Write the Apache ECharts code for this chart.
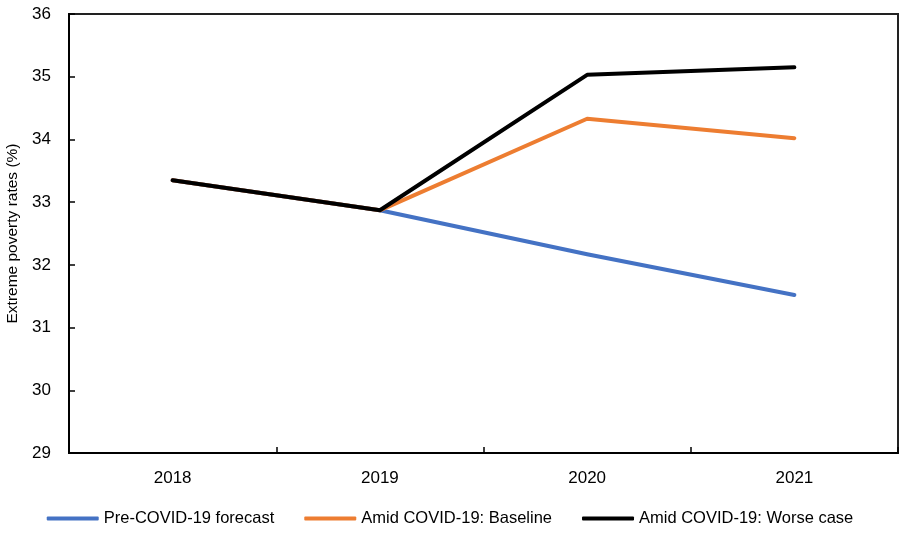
<!DOCTYPE html>
<html>
<head>
<meta charset="utf-8">
<script src="https://cdn.jsdelivr.net/npm/echarts@6/dist/echarts.min.js"></script>
<style>
html,body{margin:0;padding:0;background:#fff;}
#chart{width:900px;height:535px;}
</style>
</head>
<body>
<div id="chart"></div>
<script>
var categories = ['2018', '2019', '2020', '2021'];
var preCovid = [33.35, 32.87, 32.17, 31.52];
var baseline = [33.35, 32.87, 34.33, 34.02];
var worseCase = [33.35, 32.87, 35.03, 35.15];
var seriesNames = ['Pre-COVID-19 forecast', 'Amid COVID-19: Baseline', 'Amid COVID-19: Worse case'];
var yTitle = 'Extreme poverty rates (%)';

function hasFont(name) {
  var c = document.createElement('canvas').getContext('2d');
  var s = 'Pre-COVID-19 forecast 2018';
  c.font = '20px monospace';
  var a = c.measureText(s).width;
  c.font = '20px "' + name + '", monospace';
  var b = c.measureText(s).width;
  return Math.abs(a - b) > 0.5;
}
var narrow = hasFont('Liberation Sans Narrow');
var FONT = narrow ? '"Liberation Sans Narrow", "Liberation Sans", Arial, sans-serif' : '"Liberation Sans", Arial, sans-serif';
var FS = narrow ? 20 : 17;
var FS_L = narrow ? 20 : 16.5;
var FS_T = narrow ? 18 : 15.5;

var chart = echarts.init(document.getElementById('chart'), null, {renderer: 'canvas'});
function mk(name, data, color) {
  return {
    name: name, type: 'line', data: data, symbol: 'none',
    lineStyle: {color: color, width: 4, cap: 'round', join: 'round'},
    itemStyle: {color: color},
    animation: false
  };
}
chart.setOption({
  animation: false,
  textStyle: {fontFamily: FONT},
  grid: {left: 69, top: 14, right: 2, bottom: 82, outerBoundsMode: 'none', containLabel: false,
         show: true, borderColor: '#222', borderWidth: 2, backgroundColor: 'transparent'},
  legend: {
    bottom: 3, left: 'center',
    itemWidth: 52, itemHeight: 4, itemGap: 30,
    textStyle: {fontFamily: FONT, fontSize: FS_L, color: '#000'},
    data: seriesNames.map(function(n){return {name: n, icon: 'roundRect'};})
  },
  xAxis: {
    type: 'category', data: categories, boundaryGap: true,
    axisLine: {lineStyle: {color: '#000', width: 2}},
    axisTick: {show: true, inside: true, length: 6, lineStyle: {color: '#000', width: 1.5}},
    axisLabel: {fontFamily: FONT, fontSize: FS, color: '#000', margin: 17},
    splitLine: {show: false}
  },
  yAxis: {
    type: 'value', min: 29, max: 36, interval: 1,
    name: yTitle, nameLocation: 'middle', nameGap: 46,
    nameTextStyle: {fontFamily: FONT, fontSize: FS_T, color: '#000'},
    axisLine: {show: true, lineStyle: {color: '#000', width: 2}},
    axisTick: {show: true, inside: true, length: 6, lineStyle: {color: '#000', width: 1.5}},
    axisLabel: {fontFamily: FONT, fontSize: FS, color: '#000', margin: 18},
    splitLine: {show: false}
  },
  series: [
    mk(seriesNames[0], preCovid, '#4472C4'),
    mk(seriesNames[1], baseline, '#ED7D31'),
    mk(seriesNames[2], worseCase, '#000000')
  ]
});
</script>
</body>
</html>
